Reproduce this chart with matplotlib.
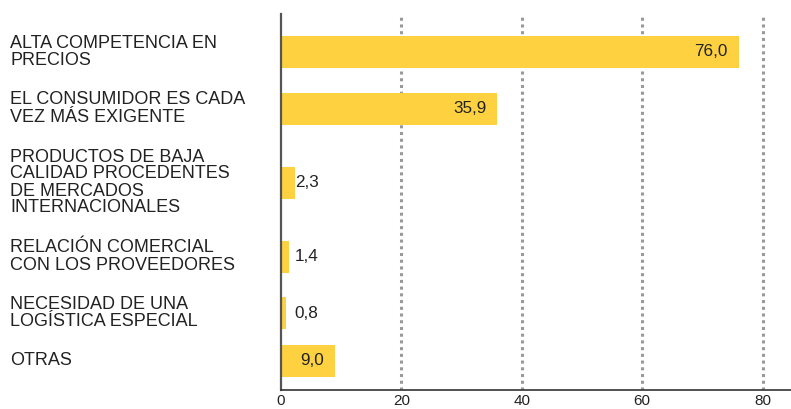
import matplotlib
matplotlib.use("Agg")
import matplotlib.pyplot as plt
import matplotlib.transforms as mtransforms

plt.rcParams['font.family'] = ['Liberation Sans', 'DejaVu Sans']

# Datos
categorias = [
    "ALTA COMPETENCIA EN\nPRECIOS",
    "EL CONSUMIDOR ES CADA\nVEZ MÁS EXIGENTE",
    "PRODUCTOS DE BAJA\nCALIDAD PROCEDENTES\nDE MERCADOS\nINTERNACIONALES",
    "RELACIÓN COMERCIAL\nCON LOS PROVEEDORES",
    "NECESIDAD DE UNA\nLOGÍSTICA ESPECIAL",
    "OTRAS",
]
valores = [76.0, 35.9, 2.3, 1.4, 0.8, 9.0]
ticks = [0, 20, 40, 60, 80]

amarillo = '#FDD140'
texto = '#222222'

# posiciones verticales según el número de líneas de cada etiqueta
alto_linea = 17.5
hueco = 21.5
lineas = [c.count("\n") + 1 for c in categorias]
ys = [38.0]
for i in range(1, len(lineas)):
    ys.append(ys[-1] + (lineas[i - 1] + lineas[i]) / 2 * alto_linea + hueco)

fig = plt.figure(figsize=(7.91, 4.09), dpi=100)
ax = fig.add_axes([281 / 791, 19 / 409, 1 - 281 / 791, 376 / 409])

ax.barh(ys, valores, height=32, color=amarillo, zorder=2)

ax.set_xlim(0, 510 / 6.02)
ax.set_ylim(376, 0)

for t in ticks[1:]:
    ax.axvline(t, color='#999999', linestyle=(0, (1, 1.2)), linewidth=2.2, zorder=1)

# etiquetas de categorías
trans = mtransforms.blended_transform_factory(fig.transFigure, ax.transData)
for y, c in zip(ys, categorias):
    ax.text(10 / 791, y, c, transform=trans, ha='left', va='center',
            fontsize=13, color=texto, linespacing=1.0)

# valores
for y, v in zip(ys, valores):
    etiqueta = f"{v:.1f}".replace(".", ",")
    if v > 5:
        ax.text(v - 1.8, y, etiqueta, ha='right', va='center',
                fontsize=12.3, color=texto, zorder=3)
    else:
        ax.text(2.3, y, etiqueta, ha='left', va='center',
                fontsize=12.3, color=texto, zorder=3)

ax.set_xticks(ticks)
ax.set_xticklabels([str(t) for t in ticks], fontsize=11, color=texto)
ax.tick_params(axis='x', length=0, pad=3)
ax.set_yticks([])

for s in ['top', 'right']:
    ax.spines[s].set_visible(False)
ax.spines['left'].set_color('#555555')
ax.spines['left'].set_linewidth(1.6)
ax.spines['bottom'].set_color('#333333')
ax.spines['bottom'].set_linewidth(1.2)

fig.savefig('out.png', dpi=100)
